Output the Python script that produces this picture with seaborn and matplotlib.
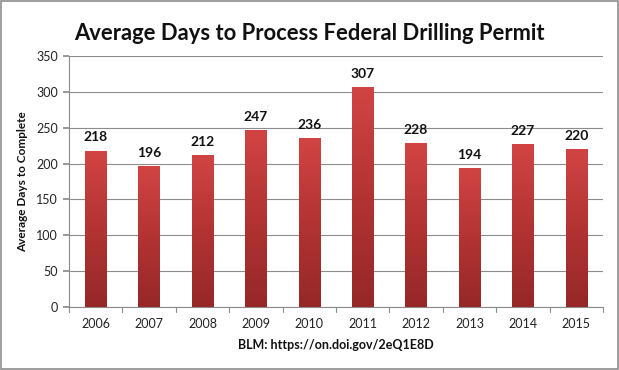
import numpy as np
import pandas as pd
import matplotlib
matplotlib.use("Agg")
import matplotlib.pyplot as plt
import seaborn as sns
from matplotlib.colors import LinearSegmentedColormap
from matplotlib.patches import Rectangle

years = ["2006", "2007", "2008", "2009", "2010", "2011", "2012", "2013", "2014", "2015"]
days = [218, 196, 212, 247, 236, 307, 228, 194, 227, 220]
yticks = [0, 50, 100, 150, 200, 250, 300, 350]

sns.set_theme(style="white")
plt.rcParams['font.family'] = ['Lato', 'DejaVu Sans']

df = pd.DataFrame({"year": years, "days": days})

fig = plt.figure(figsize=(6.19, 3.70), dpi=100)
ax = fig.add_axes([0.1115, 0.170, 0.8625, 0.679])

sns.barplot(data=df, x="year", y="days", ax=ax, width=0.4, color="#c43a3a",
            saturation=1, linewidth=0)

cmap = LinearSegmentedColormap.from_list("g", ["#962828", "#b33333", "#d24444"])
grad = np.linspace(0, 1, 256).reshape(-1, 1)
for p in ax.patches:
    x0, y0 = p.get_x(), p.get_y()
    w, h = p.get_width(), p.get_height()
    im = ax.imshow(grad, cmap=cmap, origin="lower", aspect="auto",
                   extent=[x0, x0 + w, y0, y0 + h], zorder=3)
    im.set_clip_path(p)
    p.set_zorder(2)

ax.set_xlim(-0.5, len(years) - 0.5)
ax.set_ylim(0, 350)
ax.set_yticks(yticks)
ax.set_yticklabels([str(t) for t in yticks], fontsize=9, color="#222222")
ax.yaxis.grid(True, color="#8c8c8c", linewidth=0.8)
ax.set_axisbelow(True)

ax.set_xticks(np.arange(len(years)))
ax.set_xticklabels(years, fontsize=9, color="#222222")
ax.tick_params(axis="x", length=0, pad=8)
ax.tick_params(axis="y", length=4, color="#8c8c8c", left=True, pad=4)
for b in np.arange(-0.5, len(years), 1.0):
    ax.plot([b, b], [0, -0.02], transform=ax.get_xaxis_transform(),
            color="#8c8c8c", lw=0.8, clip_on=False)

for s in ["top", "right"]:
    ax.spines[s].set_visible(False)
for s in ["left", "bottom"]:
    ax.spines[s].set_color("#8c8c8c")
    ax.spines[s].set_linewidth(0.8)

for i, v in enumerate(days):
    ax.text(i, v + 10, str(v), ha="center", va="bottom", fontsize=10,
            fontweight="bold", color="#111111")

ax.set_xlabel("BLM: https://on.doi.gov/2eQ1E8D", fontsize=9, fontweight="bold",
              labelpad=6, color="#111111")
ax.set_ylabel("Average Days to Complete", fontsize=8.5, fontweight="bold",
              labelpad=6, color="#111111")

fig.text(0.5, 0.91, "Average Days to Process Federal Drilling Permit",
         ha="center", va="center", fontsize=15.8, fontweight="bold", color="#111111")

fig.patches.append(Rectangle((0.0015, 0.0025), 0.997, 0.995, transform=fig.transFigure,
                             fill=False, edgecolor="#8c8c8c", linewidth=1.2))

fig.savefig("out.png", dpi=100)
